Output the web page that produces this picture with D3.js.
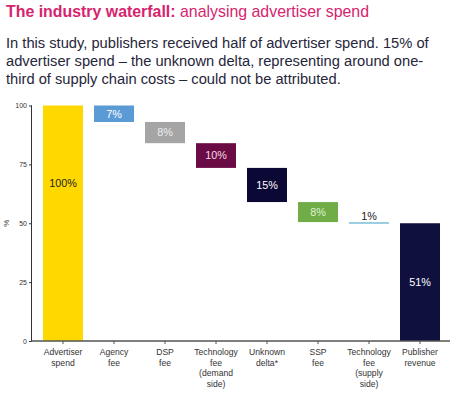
<!DOCTYPE html>
<html>
<head>
<meta charset="utf-8">
<script src="https://cdn.jsdelivr.net/npm/d3@7"></script>
<style>
  body { margin: 0; background: #fff; }
  svg { font-family: "Liberation Sans", Arial, sans-serif; }
</style>
</head>
<body>
<div id="chart"></div>
<script>
// category labels (multi-line)
const categories = [
  ["Advertiser", "spend"],
  ["Agency", "fee"],
  ["DSP", "fee"],
  ["Technology", "fee", "(demand", "side)"],
  ["Unknown", "delta*"],
  ["SSP", "fee"],
  ["Technology", "fee", "(supply", "side)"],
  ["Publisher", "revenue"]
]
// bar sizes (% of advertiser spend)
const values = [100, 7, 9, 10.5, 14.5, 8.5, 0.5, 50]
const valueLabels = ["100%", "7%", "8%", "10%", "15%", "8%", "1%", "51%"]
// first and last are totals, rest are drops
const isTotal = [true, false, false, false, false, false, false, true]
const barColors = ["#FFD800", "#5B9BD5", "#A5A5A5", "#6B0B45", "#0B0835", "#70AD47", "#8FCBDD", "#10103F"]
const labelColors = ["#222", "#fff", "#eee", "#f3dce6", "#fff", "#dff2cf", "#222", "#fff"]
const yTicks = [0, 25, 50, 75, 100]

const width = 451, height = 395

const svg = d3.select("#chart").append("svg")
  .attr("width", width)
  .attr("height", height)

// heading
const title = svg.append("text")
  .attr("x", 6).attr("y", 17)
  .attr("font-size", 15.9)
  .attr("fill", "#D6246E")
title.append("tspan").attr("font-weight", "bold").text("The industry waterfall: ")
title.append("tspan").text("analysing advertiser spend")

const intro = [
  "In this study, publishers received half of advertiser spend. 15% of",
  "advertiser spend \u2013 the unknown delta, representing around one-",
  "third of supply chain costs \u2013 could not be attributed."
]
svg.append("g").selectAll("text")
  .data(intro)
  .join("text")
  .attr("x", 6)
  .attr("y", (d, i) => 48 + i * 18)
  .attr("font-size", 14.7)
  .attr("fill", "#26263a")
  .text(d => d)

// waterfall layout
let running = 0
const bars = values.map((v, i) => {
  let top, bottom
  if (isTotal[i]) {
    bottom = 0; top = v
    running = v
  } else {
    top = running; bottom = running - v
    running = bottom
  }
  return { i, v, top, bottom }
})

const x = d3.scaleBand()
  .domain(d3.range(categories.length))
  .range([37.5, 445.5])
  .paddingInner(0.216)
  .paddingOuter(0.108)

const y = d3.scaleLinear().domain([0, 100]).range([341, 105.5])

// bars
svg.append("g").selectAll("rect")
  .data(bars)
  .join("rect")
  .attr("x", d => x(d.i))
  .attr("width", x.bandwidth())
  .attr("y", d => y(d.top))
  .attr("height", d => Math.max(1.8, y(d.bottom) - y(d.top)))
  .attr("fill", d => barColors[d.i])

// value labels
svg.append("g").selectAll("text")
  .data(bars)
  .join("text")
  .attr("x", d => x(d.i) + x.bandwidth() / 2)
  .attr("y", d => {
    if (d.i === 0) return y(67)
    if (d.v < 2) return y(d.top) - 6
    return (y(d.top) + y(d.bottom)) / 2
  })
  .attr("dy", "0.35em")
  .attr("text-anchor", "middle")
  .attr("font-size", 10.8)
  .attr("fill", d => labelColors[d.i])
  .text(d => valueLabels[d.i])

// y axis
const yAxis = svg.append("g")
  .attr("transform", "translate(32,0)")
  .call(d3.axisLeft(y).tickValues(yTicks).tickSize(3).tickPadding(2))
yAxis.select(".domain").attr("stroke", "#333").attr("d", `M-0.5,${y(100)}V${y(0)}`)
yAxis.selectAll(".tick line").attr("stroke", "#333")
yAxis.selectAll("text").attr("font-size", 7).attr("fill", "#333").attr("font-family", "Liberation Sans, Arial, sans-serif")

svg.append("text")
  .attr("transform", `translate(9,${y(50)}) rotate(-90)`)
  .attr("text-anchor", "middle")
  .attr("font-size", 8)
  .attr("fill", "#333")
  .text("%")

// x axis
const xAxis = svg.append("g")
  .attr("transform", `translate(0,${y(0)})`)
xAxis.append("line")
  .attr("x1", 31).attr("x2", 450)
  .attr("stroke", "#555").attr("stroke-width", 1.3)
xAxis.selectAll(".tk")
  .data(d3.range(categories.length))
  .join("line")
  .attr("class", "tk")
  .attr("x1", d => x(d) + x.bandwidth() / 2)
  .attr("x2", d => x(d) + x.bandwidth() / 2)
  .attr("y1", 0).attr("y2", 3)
  .attr("stroke", "#555")

const catLabels = xAxis.selectAll(".cat")
  .data(categories)
  .join("text")
  .attr("class", "cat")
  .attr("text-anchor", "middle")
  .attr("font-size", 8.6)
  .attr("fill", "#333")
  .attr("transform", (d, i) => `translate(${x(i) + x.bandwidth() / 2},0)`)
catLabels.selectAll("tspan")
  .data(d => d)
  .join("tspan")
  .attr("x", 0)
  .attr("y", (d, j) => 14 + j * 10.7)
  .text(d => d)
</script>
</body>
</html>
